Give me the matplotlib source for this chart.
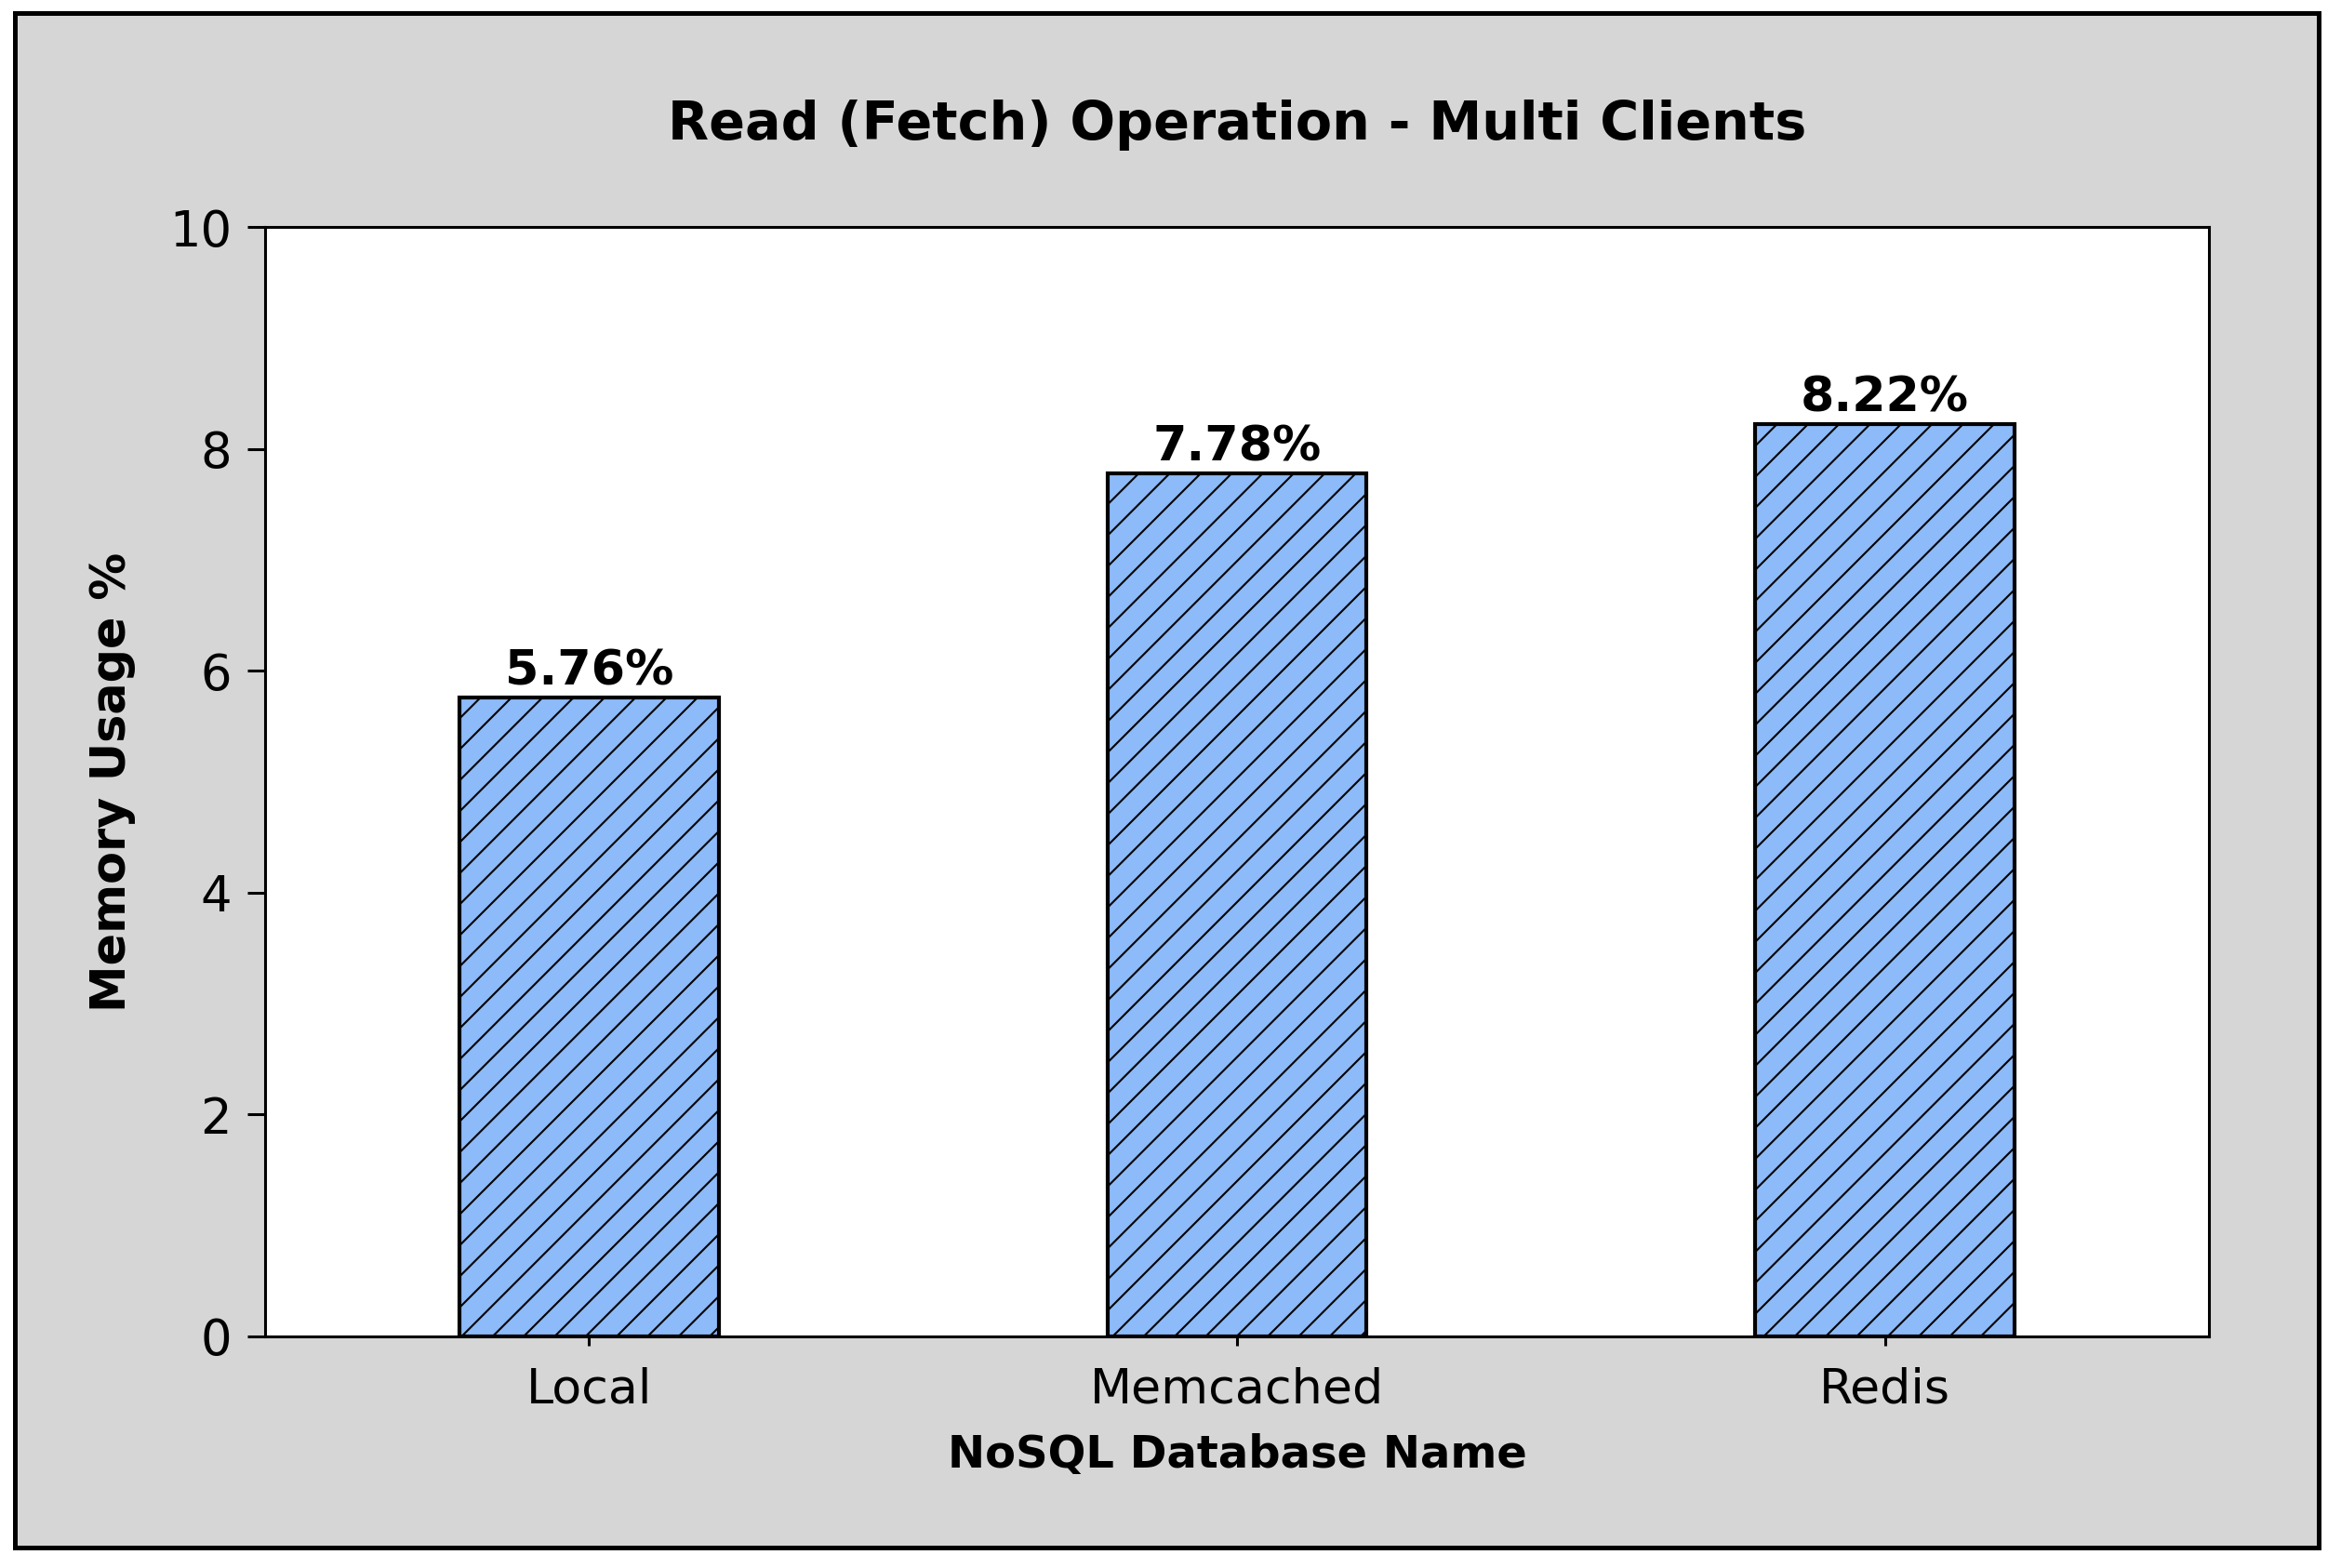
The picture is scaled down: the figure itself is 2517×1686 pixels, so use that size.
import matplotlib
matplotlib.use("Agg")
import matplotlib.pyplot as plt
from matplotlib.patches import Rectangle

# data
databases = ["Local", "Memcached", "Redis"]
memory_usage = [5.76, 7.78, 8.22]
bar_labels = ["5.76%", "7.78%", "8.22%"]
y_ticks = [0, 2, 4, 6, 8, 10]

W, H, DPI = 2517, 1686, 200
plt.rcParams["font.family"] = ["DejaVu Sans"]
plt.rcParams["hatch.linewidth"] = 0.75
plt.rcParams["hatch.color"] = "black"

fig = plt.figure(figsize=(W / DPI, H / DPI), dpi=DPI, facecolor="white")

# grey panel with black frame, like the Minitab graph window
fig.patches.append(Rectangle((16 / W, 1 - 1664 / H), (2493 - 16) / W, (1664 - 14) / H,
                             transform=fig.transFigure, facecolor="#D6D6D6",
                             edgecolor="black", linewidth=1.8, zorder=-10))

ax = fig.add_axes([285 / W, 1 - 1437 / H, (2375 - 285) / W, (1437 - 244) / H])
ax.set_facecolor("white")

x = range(len(databases))
bars = ax.bar(x, memory_usage, width=0.4, color="#8DBAF8", edgecolor="black",
              linewidth=1.5, hatch="//", zorder=2)

for b, lab in zip(bars, bar_labels):
    ax.annotate(lab, (b.get_x() + b.get_width() / 2, b.get_height()),
                xytext=(0, 1), textcoords="offset points", ha="center", va="bottom",
                fontsize=18.8, fontweight="bold")

ax.set_xlim(-0.5, 2.5)
ax.set_ylim(0, 10)
ax.set_yticks(y_ticks)
ax.set_xticks(list(x))
ax.set_xticklabels(databases)
ax.tick_params(axis="y", direction="out", length=7, width=1.1, labelsize=19, pad=6)
ax.tick_params(axis="x", direction="out", length=3.6, width=1.1, labelsize=18.8, pad=8)
for s in ax.spines.values():
    s.set_linewidth(1.1)

# title placed in figure coords, centred over the plot area
fig.text((285 + 2375) / 2 / W, (H - 134) / H, "Read (Fetch) Operation - Multi Clients",
         ha="center", va="center", fontsize=20.6, fontweight="bold")

ax.set_xlabel("NoSQL Database Name", fontsize=17.3, fontweight="bold", labelpad=8)
ax.set_ylabel("Memory Usage %", fontsize=18.3, fontweight="bold", labelpad=13)

fig.savefig("out.png", dpi=DPI, facecolor="white")
